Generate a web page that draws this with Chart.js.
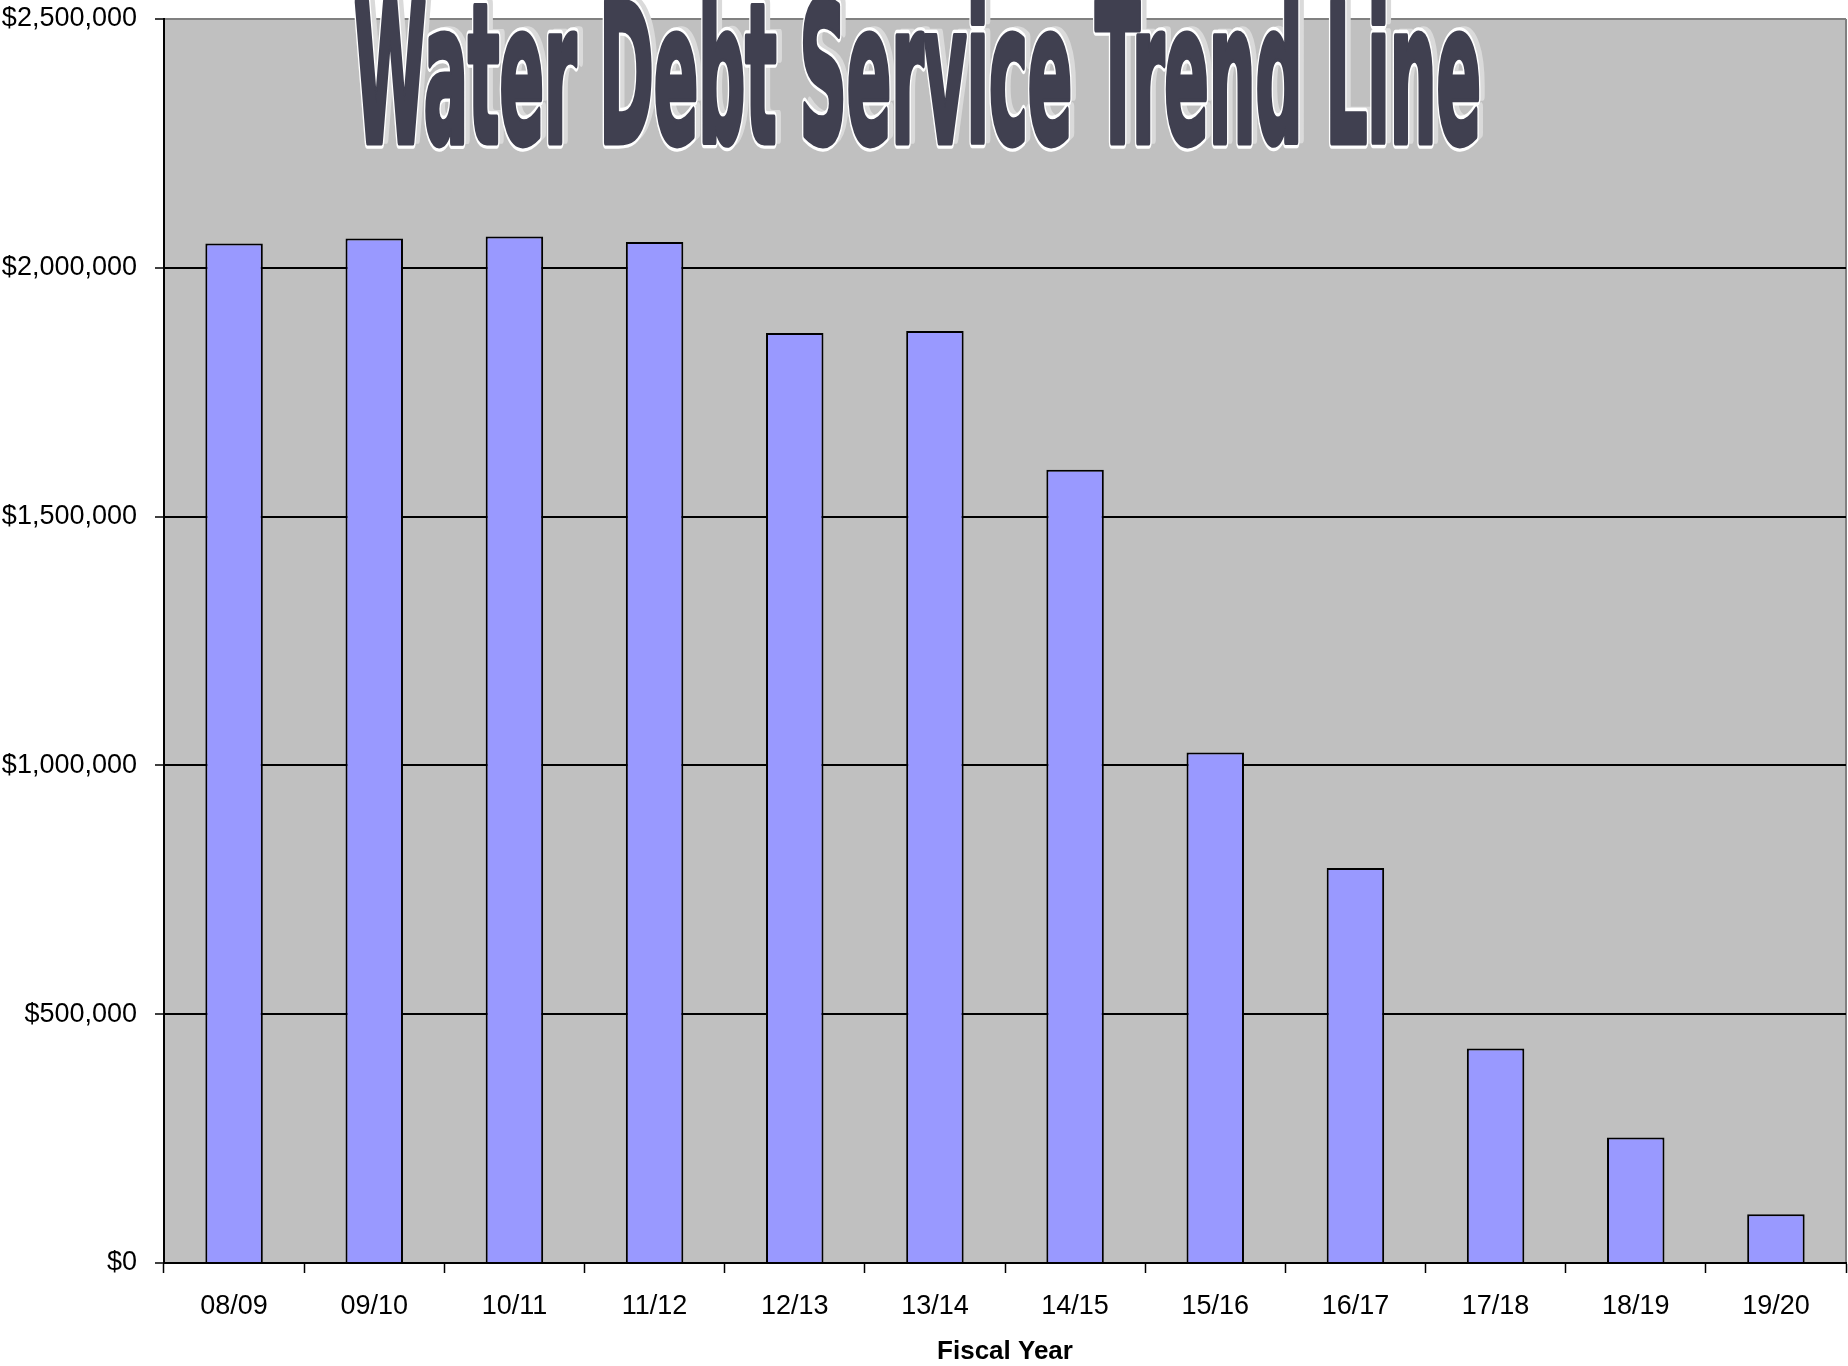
<!DOCTYPE html>
<html>
<head>
<meta charset="utf-8">
<script src="https://cdn.jsdelivr.net/npm/chart.js@4"></script>
<style>
  html, body { margin: 0; padding: 0; background: #fff; }
  #wrap { width: 1848px; height: 1366px; }
</style>
</head>
<body>
<div id="wrap"><canvas id="debtChart" width="1848" height="1366"></canvas></div>
<script>
var fiscalYears = ["08/09", "09/10", "10/11", "11/12", "12/13", "13/14", "14/15", "15/16", "16/17", "17/18", "18/19", "19/20"];
var debtService = [2049000, 2059000, 2063000, 2052000, 1869000, 1873000, 1594000, 1026000, 794000, 431000, 252000, 98000];
var yTicks = [0, 500000, 1000000, 1500000, 2000000, 2500000];
var chartTitle = "Water Debt Service Trend Line";
var xTitle = "Fiscal Year";

// grey plot background + grey right border, like the old Excel chart
const plotBackground = {
	id: "plotBackground",
	beforeDraw(chart) {
		const ctx = chart.ctx, a = chart.chartArea;
		ctx.save();
		ctx.fillStyle = "#c0c0c0";
		ctx.fillRect(a.left, a.top, a.right - a.left, a.bottom - a.top);
		ctx.strokeStyle = "#808080";
		ctx.lineWidth = 2;
		ctx.beginPath();
		ctx.moveTo(a.right, a.top);
		ctx.lineTo(a.right, a.bottom);
		ctx.stroke();
		ctx.restore();
	}
};

// big condensed word-art title
const wordArtTitle = {
	id: "wordArtTitle",
	afterDraw(chart) {
		const ctx = chart.ctx;
		const left = 354, right = 1481, baseline = 142, capHeight = 139;
		ctx.save();
		ctx.font = "bold 100px 'Liberation Sans Narrow', 'DejaVu Sans Condensed', 'Liberation Sans', sans-serif";
		const w = ctx.measureText(chartTitle).width;
		const sx = (right - left) / w;
		const sy = capHeight / 72;
		ctx.translate(left, baseline);
		ctx.scale(sx, sy);
		ctx.textBaseline = "alphabetic";
		ctx.lineJoin = "round";
		// shadow
		ctx.fillStyle = "#dadada";
		ctx.strokeStyle = "#dadada";
		ctx.lineWidth = 5;
		ctx.strokeText(chartTitle, 5 / sx, -3 / sy);
		ctx.fillText(chartTitle, 5 / sx, -3 / sy);
		// white outline
		ctx.strokeStyle = "#ffffff";
		ctx.lineWidth = 7;
		ctx.strokeText(chartTitle, 0, 0);
		// dark body
		ctx.strokeStyle = "#404050";
		ctx.lineWidth = 3.5;
		ctx.strokeText(chartTitle, 0, 0);
		ctx.fillStyle = "#404050";
		ctx.fillText(chartTitle, 0, 0);
		ctx.restore();
	}
};

const debtChart = new Chart(document.getElementById("debtChart"), {
	type: "bar",
	data: {
		labels: fiscalYears,
		datasets: [
			{
				label: "Debt Service",
				data: debtService,
				backgroundColor: "#9999ff",
				borderColor: "#000000",
				borderWidth: 2,
				borderSkipped: "bottom",
				barPercentage: 0.41,
				categoryPercentage: 1.0
			}
		]
	},
	plugins: [plotBackground, wordArtTitle],
	options: {
		responsive: false,
		animation: false,
		devicePixelRatio: 1,
		layout: { padding: { top: 19, right: 2, left: 0, bottom: 0 } },
		plugins: {
			legend: { display: false },
			title: { display: false },
			tooltip: { enabled: false }
		},
		scales: {
			x: {
				offset: true,
				grid: {
					display: true,
					offset: true,
					drawOnChartArea: false,
					drawTicks: true,
					tickLength: 10,
					tickColor: "#000000",
					tickWidth: 1.5
				},
				border: { display: true, color: "#000000", width: 2 },
				ticks: {
					color: "#000000",
					padding: 17,
					maxRotation: 0,
					font: { family: "'Liberation Sans', Arial, sans-serif", size: 27 }
				},
				title: {
					display: true,
					text: xTitle,
					color: "#000000",
					padding: { top: 12, bottom: 0 },
					font: { family: "'Liberation Sans', Arial, sans-serif", size: 26, weight: "bold", lineHeight: 1.1 }
				},
				afterFit(scale) {
					scale.height = 103;
					scale.paddingLeft = 0;
					scale.paddingRight = 0;
				}
			},
			y: {
				min: 0,
				max: 2500000,
				afterBuildTicks(scale) { scale.ticks = yTicks.map(v => ({ value: v })); },
				grid: {
					color: ctx => (ctx.tick && ctx.tick.value === 2500000) ? "#808080" : "#000000",
					lineWidth: 2,
					drawTicks: true,
					tickLength: 9,
					tickColor: "#000000",
					tickWidth: 1.5
				},
				border: { display: true, color: "#000000", width: 2 },
				ticks: {
					color: "#000000",
					padding: 18,
					font: { family: "'Liberation Sans', Arial, sans-serif", size: 27 },
					callback: v => "$" + Number(v).toLocaleString("en-US")
				},
				afterFit(scale) {
					scale.width = 164;
					scale.paddingTop = 0;
					scale.paddingBottom = 0;
				}
			}
		}
	}
});
</script>
</body>
</html>
